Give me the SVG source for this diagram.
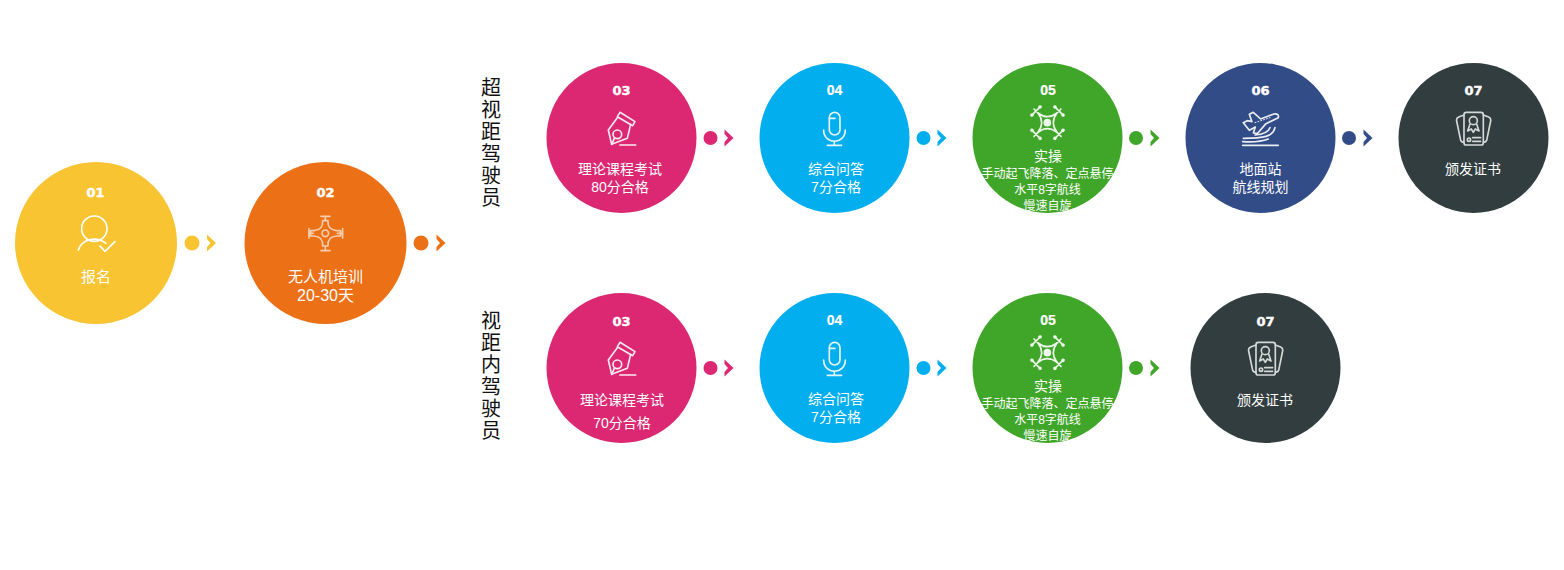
<svg xmlns="http://www.w3.org/2000/svg" xmlns:xlink="http://www.w3.org/1999/xlink" width="1564" height="570" viewBox="0 0 1564 570">
<style>
text{font-family:"Liberation Sans","Noto Sans CJK SC",sans-serif;fill:#fff;text-anchor:middle}
.t14{font-size:14px}
.t15{font-size:15px}
.t16{font-size:16px}
.t12{font-size:12px}
.n{font-family:"DejaVu Sans",sans-serif;font-weight:700;font-size:13px;stroke:#fff;stroke-width:.45}
.m{font-family:"Liberation Sans",sans-serif;font-weight:700;font-size:14px;stroke:#fff;stroke-width:.2}
.v{font-family:"Noto Sans CJK SC",sans-serif;font-size:20px;fill:#111;writing-mode:vertical-rl;letter-spacing:2px;text-anchor:start}
.i{fill:none;stroke:#fff;stroke-width:5;stroke-linecap:round;stroke-linejoin:round}
.s{opacity:.9}
</style>
<defs>
<polygon id="chev" points="-4.5,-8.5 4.5,0 -4.5,8.5 -4.5,4 -1,0 -4.5,-4"/>
<g id="pen" class="i s"><path d="M240,172L285,200L278,212L232,185ZM232,188L205,225L215,268L262,250L272,208"/><circle cx="232" cy="238" r="13"/><path d="M224,248L215,268M240,270H287"/></g>
<g id="mic" class="i s"><rect x="868" y="172" width="32" height="68" rx="16"/><path d="M870,190H885M851,225C851,270 916,270 916,225M883,258V270M862,271H905"/></g>
<g id="drone" class="i s"><circle cx="262" cy="203" r="9" fill="#fff"/><path d="M234,174Q262,196 291,174Q269,203 291,232Q262,210 234,232Q256,203 234,174Z"/><path d="M222,162L234,174M303,162L291,174M222,244L234,232M303,244L291,232M214,182L242,154M283,154L311,182M214,224L242,252M283,252L311,224"/><g fill="#fff"><circle cx="216" cy="180" r="3"/><circle cx="240" cy="156" r="3"/><circle cx="285" cy="156" r="3"/><circle cx="309" cy="180" r="3"/><circle cx="216" cy="226" r="3"/><circle cx="240" cy="250" r="3"/><circle cx="285" cy="250" r="3"/><circle cx="309" cy="226" r="3"/></g></g>
<g id="cert" class="i" style="opacity:.8"><rect x="372" y="172" width="58" height="98" rx="7"/><path d="M372,180L356,186Q348,190 350,198L362,256Q364,262 372,262M430,180L446,186Q454,190 452,198L440,256Q438,262 430,262"/><circle cx="400" cy="197" r="12"/><path d="M390,207L383,228L394,222L400,232L406,222L417,228L410,207"/><circle cx="387" cy="254" r="5"/><path d="M398,248H422M398,259H422"/></g>
</defs>
<g id="connectors">
<circle cx="192" cy="243" r="7.5" fill="#f9c432"/><use xlink:href="#chev" href="#chev" x="211.5" y="243" fill="#f9c432"/>
<circle cx="421" cy="243" r="7.5" fill="#ec7016"/><use xlink:href="#chev" href="#chev" x="441" y="243" fill="#ec7016"/>
<circle cx="710.5" cy="138" r="7" fill="#dc2873"/><use xlink:href="#chev" href="#chev" x="729" y="138" fill="#dc2873"/>
<circle cx="923.5" cy="138" r="7" fill="#03aeef"/><use xlink:href="#chev" href="#chev" x="942" y="138" fill="#03aeef"/>
<circle cx="1136" cy="138" r="7" fill="#40a629"/><use xlink:href="#chev" href="#chev" x="1155" y="138" fill="#40a629"/>
<circle cx="1349" cy="138" r="7" fill="#324c88"/><use xlink:href="#chev" href="#chev" x="1368" y="138" fill="#324c88"/>
<circle cx="710.5" cy="368" r="7" fill="#dc2873"/><use xlink:href="#chev" href="#chev" x="729" y="368" fill="#dc2873"/>
<circle cx="923.5" cy="368" r="7" fill="#03aeef"/><use xlink:href="#chev" href="#chev" x="942" y="368" fill="#03aeef"/>
<circle cx="1136" cy="368" r="7" fill="#40a629"/><use xlink:href="#chev" href="#chev" x="1155" y="368" fill="#40a629"/>
</g>
<g id="label-bvlos"><text class="v" x="491" y="77">超视距驾驶员</text></g>
<g id="label-vlos"><text class="v" x="491" y="310">视距内驾驶员</text></g>
<g id="node-01"><circle cx="96" cy="243" r="81" fill="#f9c432"/><text class="n" x="95.5" y="196.5">01</text>
<g transform="translate(0 150) scale(.3333)" class="i"><circle cx="283" cy="236" r="38"/><path d="M235,300C245,270 285,255 318,280"/><path d="M300,288L315,304L345,275"/></g>
<text class="t15" x="96" y="281.5">报名</text></g>
<g id="node-02"><circle cx="325.5" cy="243" r="81" fill="#ec7016"/><text class="n" x="325.5" y="196.5">02</text>
<g transform="translate(0 150) scale(.3333)" class="i" style="opacity:.65"><circle cx="976" cy="250" r="10"/><path d="M963,199H990M976,199V212M963,302H990M976,288V302M927,236V264M1028,236V264M927,250H940M1012,250H1028M968,212Q970,240 942,242H932V258H942Q970,260 968,288H984Q982,260 1010,258H1022V242H1010Q982,240 984,212Z"/></g>
<text class="t15" x="325.5" y="282">无人机培训</text><text class="t16" x="325.5" y="301">20-30天</text></g>
<g id="node-03a"><circle cx="621.5" cy="138" r="75" fill="#dc2873"/><text class="n" x="621.5" y="95">03</text>
<use xlink:href="#pen" href="#pen" transform="translate(540 55) scale(.3333)"/>
<text class="t14" x="620" y="174">理论课程考试</text><text class="t14" x="620" y="192">80分合格</text></g>
<g id="node-04a"><circle cx="834.5" cy="138" r="75" fill="#03aeef"/><text class="m" x="834.5" y="95">04</text>
<use xlink:href="#mic" href="#mic" transform="translate(540 55) scale(.3333)"/>
<text class="t14" x="836" y="174">综合问答</text><text class="t14" x="836" y="192">7分合格</text></g>
<g id="node-05a"><circle cx="1047.5" cy="138" r="75" fill="#40a629"/><text class="m" x="1048" y="95">05</text>
<use xlink:href="#drone" href="#drone" transform="translate(960 55) scale(.3333)"/>
<text class="t14" x="1048" y="161">实操</text><text class="t12" x="1047.5" y="177.5">手动起飞降落、定点悬停</text><text class="t12" x="1047.5" y="193.5">水平8字航线</text><text class="t12" x="1047.5" y="210">慢速自旋</text></g>
<g id="node-06"><circle cx="1260.5" cy="138" r="75" fill="#324c88"/><text class="n" x="1260.5" y="95">06</text>
<g transform="translate(960 55) scale(.3333)" class="i s"><path d="M868,178L880,172L902,192L942,177Q958,175 955,188L918,206L893,235L880,234L886,216L868,226L850,203L862,197L876,200Z"/><path d="M885,203L930,188" stroke-dasharray="3 6" stroke-width="3"/><path d="M945,218C940,245 910,250 850,250M930,218C925,232 910,238 885,240M848,271H955M848,260C880,262 905,260 925,252"/></g>
<text class="t14" x="1260.5" y="174">地面站</text><text class="t14" x="1260.5" y="192">航线规划</text></g>
<g id="node-07a"><circle cx="1473.5" cy="138" r="75" fill="#313d3e"/><text class="n" x="1473.5" y="95">07</text>
<use xlink:href="#cert" href="#cert" transform="translate(1340 55) scale(.3333)"/>
<text class="t14" x="1473" y="174">颁发证书</text></g>
<g id="node-03b"><circle cx="621.5" cy="368" r="75" fill="#dc2873"/><text class="n" x="621.5" y="325.5">03</text>
<use xlink:href="#pen" href="#pen" transform="translate(540 285) scale(.3333)"/>
<text class="t14" x="622" y="405">理论课程考试</text><text class="t14" x="622" y="428">70分合格</text></g>
<g id="node-04b"><circle cx="834.5" cy="368" r="75" fill="#03aeef"/><text class="m" x="834.5" y="325">04</text>
<use xlink:href="#mic" href="#mic" transform="translate(540 285) scale(.3333)"/>
<text class="t14" x="836" y="404">综合问答</text><text class="t14" x="836" y="422">7分合格</text></g>
<g id="node-05b"><circle cx="1047.5" cy="368" r="75" fill="#40a629"/><text class="m" x="1048" y="325">05</text>
<use xlink:href="#drone" href="#drone" transform="translate(960 285) scale(.3333)"/>
<text class="t14" x="1048" y="391">实操</text><text class="t12" x="1047.5" y="407.5">手动起飞降落、定点悬停</text><text class="t12" x="1047.5" y="423.5">水平8字航线</text><text class="t12" x="1047.5" y="440">慢速自旋</text></g>
<g id="node-07b"><circle cx="1265.5" cy="368" r="75" fill="#313d3e"/><text class="n" x="1265.5" y="325.5">07</text>
<use xlink:href="#cert" href="#cert" transform="translate(1132 285) scale(.3333)"/>
<text class="t14" x="1265" y="405">颁发证书</text></g>
</svg>
